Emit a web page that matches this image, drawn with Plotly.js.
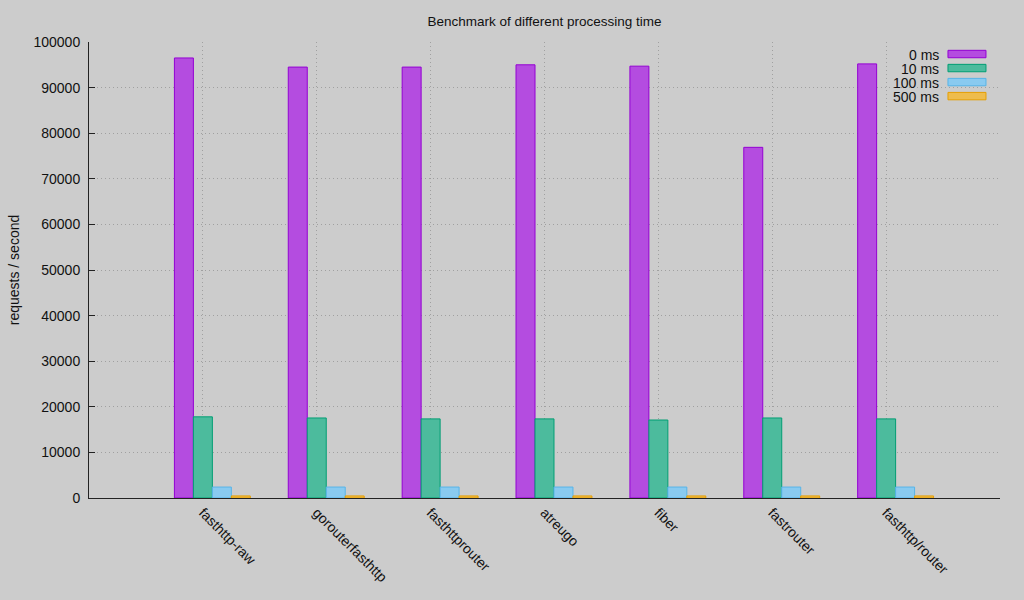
<!DOCTYPE html>
<html>
<head>
<meta charset="utf-8">
<script src="https://cdn.plot.ly/plotly-3.0.1.min.js"></script>
<style>
  html, body { margin: 0; padding: 0; background: #cccccc; }
  #myDiv { width: 1024px; height: 600px; }
</style>
</head>
<body>
<div id="myDiv"></div>
<script>
var categories = ['fasthttp-raw', 'gorouterfasthttp', 'fasthttprouter', 'atreugo', 'fiber', 'fastrouter', 'fasthttp/router'];
var seriesNames = ['0 ms', '10 ms', '100 ms', '500 ms'];
var ms0 = [96500, 94500, 94500, 95000, 94700, 76900, 95200];
var ms10 = [17800, 17550, 17350, 17350, 17100, 17550, 17350];
var ms100 = [2400, 2400, 2400, 2400, 2400, 2400, 2400];
var ms500 = [450, 450, 450, 450, 450, 450, 450];

var lineColors = ['#9400d3', '#009e73', '#56b4e9', '#e69f00'];
var fillColors = ['#b44ce0', '#4cbb9d', '#89caf0', '#eebc4c'];
var offsets = [-0.25, -1 / 12, 1 / 12, 0.25];
var barWidth = 1 / 6;

var font = 'Liberation Sans, Arial, sans-serif';
var xIdx = categories.map(function (c, i) { return i; });
var values = [ms0, ms10, ms100, ms500];

var data = values.map(function (v, k) {
  return {
    x: xIdx,
    y: v,
    name: seriesNames[k],
    type: 'bar',
    width: barWidth,
    offset: offsets[k],
    marker: { color: fillColors[k], line: { color: lineColors[k], width: 1 } },
    hoverinfo: 'x+y+name',
    showlegend: false
  };
});

// legend drawn gnuplot-style: label on the left, swatch on the right
var annotations = [];
var shapes = [];
seriesNames.forEach(function (name, k) {
  var yc = (498 - 55 - 14 * k) / 455;
  annotations.push({
    xref: 'paper', yref: 'paper', x: 0.9352, y: yc - 0.003,
    xanchor: 'right', yanchor: 'middle', showarrow: false,
    text: name, font: { family: font, size: 14, color: '#111' }
  });
  shapes.push({
    type: 'rect', xref: 'paper', yref: 'paper',
    x0: 0.9429, x1: 0.9846, y0: yc - 3.7 / 455, y1: yc + 3.7 / 455,
    fillcolor: fillColors[k], line: { color: lineColors[k], width: 1 }
  });
});

var layout = {
  width: 1024,
  height: 600,
  paper_bgcolor: '#cccccc',
  plot_bgcolor: '#cccccc',
  font: { family: font, size: 13.5, color: '#111' },
  margin: { l: 89, r: 24, t: 42, b: 102 },
  barmode: 'overlay',
  title: {
    text: 'Benchmark of different processing time',
    font: { family: font, size: 13.5, color: '#111' },
    x: 0.5, xref: 'paper', y: 0.965, yanchor: 'middle'
  },
  xaxis: {
    range: [-1, 7],
    tickvals: xIdx,
    ticktext: categories,
    tickangle: 45,
    ticks: '',
    showgrid: true,
    gridcolor: '#a0a0a0',
    griddash: '1px,3px',
    gridwidth: 1,
    zeroline: false,
    showline: true,
    linecolor: '#222',
    linewidth: 1,
    tickfont: { family: font, size: 14, color: '#111' },
    fixedrange: true
  },
  yaxis: {
    range: [0, 100000],
    dtick: 10000,
    tickformat: 'd',
    ticks: 'inside',
    ticklen: 6,
    tickcolor: '#222',
    ticklabelstandoff: 5,
    showgrid: true,
    gridcolor: '#a0a0a0',
    griddash: '1px,3px',
    gridwidth: 1,
    zeroline: false,
    showline: true,
    linecolor: '#222',
    linewidth: 1,
    tickfont: { family: font, size: 14, color: '#111' },
    title: {
      text: 'requests / second',
      font: { family: font, size: 14, color: '#111' },
      standoff: 10
    },
    fixedrange: true
  },
  annotations: annotations,
  shapes: shapes
};

Plotly.newPlot('myDiv', data, layout, { displayModeBar: false });
</script>
</body>
</html>
